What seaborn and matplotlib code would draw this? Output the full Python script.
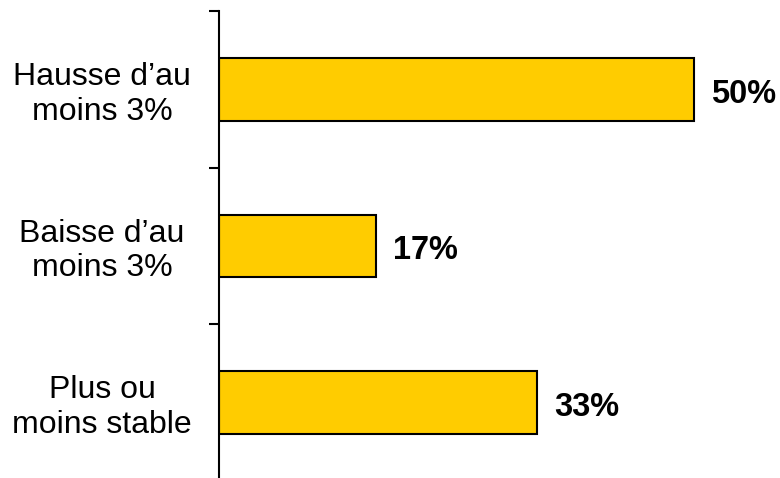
import matplotlib
matplotlib.use("Agg")
import matplotlib.pyplot as plt
import matplotlib.transforms as mtransforms
import seaborn as sns
import pandas as pd

categories = ["Hausse d\u2019au\nmoins 3%", "Baisse d\u2019au\nmoins 3%", "Plus ou\nmoins stable"]
values = [50, 16.5, 33.5]
value_labels = ["50%", "17%", "33%"]

sns.set_style("white")
plt.rcParams['font.family'] = ['Liberation Sans', 'DejaVu Sans']

df = pd.DataFrame({"cat": categories, "val": values})

fig = plt.figure(figsize=(7.8, 4.78), dpi=100)
ax = fig.add_axes([219/780, -3/478, (780-219)/780, 470/478])
sns.barplot(data=df, y="cat", x="val", orient="h", color="#FFCC00",
            saturation=1, width=0.4, edgecolor="black", linewidth=1.5, ax=ax)

ax.set_xlim(0, (780-219)/9.5)
ax.set_ylim(2.5, -0.5)
ax.set_xlabel("")
ax.set_ylabel("")
ax.set_xticks([])
ax.set_yticks([-0.5, 0.5, 1.5, 2.5])
ax.set_yticklabels([])
ax.tick_params(axis="y", direction="out", length=7.5, width=1.5, color="black", left=True)
for s in ["top", "right", "bottom"]:
    ax.spines[s].set_visible(False)
ax.spines["left"].set_color("black")
ax.spines["left"].set_linewidth(1.5)

trans = mtransforms.blended_transform_factory(fig.transFigure, ax.transData)
trans = trans + mtransforms.ScaledTranslation(0, -5/100, fig.dpi_scale_trans)
for i, c in enumerate(categories):
    ax.text(102/780, i, c, transform=trans, ha="center", va="center",
            multialignment="center", fontsize=23, linespacing=1.19, color="black")

for i, (v, lab) in enumerate(zip(values, value_labels)):
    ax.annotate(lab, (v, i), xytext=(12.5, -3.5), textcoords="offset points",
                ha="left", va="center", fontsize=23.5, fontweight="bold", color="black")

fig.savefig("out.png", dpi=100)
